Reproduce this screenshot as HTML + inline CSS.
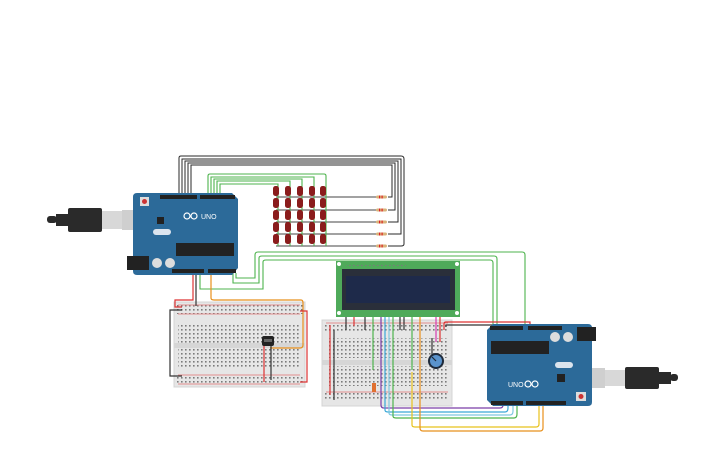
<!DOCTYPE html>
<html><head><meta charset="utf-8"><style>
html,body{margin:0;padding:0;background:#fff;width:725px;height:453px;overflow:hidden}
svg{display:block}
text{font-family:"Liberation Sans",sans-serif}
</style></head><body>
<svg width="725" height="453" viewBox="0 0 725 453" xmlns="http://www.w3.org/2000/svg">
<defs>
<pattern id="holes" x="0" y="0" width="4" height="4" patternUnits="userSpaceOnUse">
<rect x="1" y="1" width="1.6" height="1.6" fill="#7a7a7a"/>
</pattern>
</defs>

<!-- black wires from arduino1 top to resistors -->
<g fill="none" stroke="#2a2a2a" stroke-width="1">
<path d="M179,195 V158 Q179,156 181,156 H401 Q404,156 404,159 V244 Q404,246 401,246 H388"/>
<path d="M182,195 V159 H401 V234 H388"/>
<path d="M185,195 V161 H398 V222 H388"/>
<path d="M188,195 V163 H395 V210 H388"/>
<path d="M191,195 V165 H392 V197 H388"/>
</g>
<!-- row wires to resistors -->
<g stroke="#444" stroke-width="1">
<line x1="276" y1="197" x2="377" y2="197"/>
<line x1="276" y1="210" x2="377" y2="210"/>
<line x1="276" y1="222" x2="377" y2="222"/>
<line x1="276" y1="234" x2="377" y2="234"/>
<line x1="276" y1="246" x2="377" y2="246"/>
</g>
<!-- green column wires -->
<g fill="none" stroke="#4db34d" stroke-width="1.1">
<path d="M208,195 V176 Q208,174 210,174 H324 Q326,174 326,176 V246"/>
<path d="M211,195 V177 H314 V246"/>
<path d="M214,195 V179 H302 V246"/>
<path d="M217,195 V181 H290 V246"/>
<path d="M220,195 V184 H278 V246"/>
</g>
<!-- resistors -->
<g>
<rect x="376" y="195.5" width="11" height="3" rx="1.5" fill="#d9b27a"/>
<rect x="376" y="208.5" width="11" height="3" rx="1.5" fill="#d9b27a"/>
<rect x="376" y="220.5" width="11" height="3" rx="1.5" fill="#d9b27a"/>
<rect x="376" y="232.5" width="11" height="3" rx="1.5" fill="#d9b27a"/>
<rect x="376" y="244.5" width="11" height="3" rx="1.5" fill="#d9b27a"/>
<g fill="#d22">
<rect x="379" y="195.5" width="1.2" height="3"/><rect x="381.5" y="195.5" width="1.2" height="3"/>
<rect x="379" y="208.5" width="1.2" height="3"/><rect x="381.5" y="208.5" width="1.2" height="3"/>
<rect x="379" y="220.5" width="1.2" height="3"/><rect x="381.5" y="220.5" width="1.2" height="3"/>
<rect x="379" y="232.5" width="1.2" height="3"/><rect x="381.5" y="232.5" width="1.2" height="3"/>
<rect x="379" y="244.5" width="1.2" height="3"/><rect x="381.5" y="244.5" width="1.2" height="3"/>
</g>
</g>
<!-- LED matrix -->
<g fill="#8a1c1c">
<g id="ledrow">
<rect x="273" y="186" width="6" height="10" rx="2.5"/>
<rect x="285" y="186" width="6" height="10" rx="2.5"/>
<rect x="297" y="186" width="6" height="10" rx="2.5"/>
<rect x="309" y="186" width="6" height="10" rx="2.5"/>
<rect x="320" y="186" width="6" height="10" rx="2.5"/>
</g>
<use href="#ledrow" y="12"/>
<use href="#ledrow" y="24"/>
<use href="#ledrow" y="36"/>
<use href="#ledrow" y="48"/>
</g>

<!-- green long wires from arduino1 bottom to arduino2 -->
<g fill="none" stroke="#4db34d" stroke-width="1.1">
<path d="M236,273 V278 H255 V255 Q255,252 258,252 H522 Q525,252 525,255 V326"/>
<path d="M233,273 V283 H259 V258 Q259,256 262,256 H494 Q497,256 497,259 V326"/>
<path d="M200,273 V289 H263 V262 Q263,260 266,260 H490 Q493,260 493,263 V326"/>
</g>

<!-- Breadboard 1 -->
<rect x="174" y="302" width="131" height="85" fill="#e6e6e6" stroke="#d4d4d4"/>
<rect x="176" y="305" width="127" height="9" fill="url(#holes)"/>
<rect x="178" y="323" width="122" height="20" fill="url(#holes)"/>
<rect x="174" y="343" width="131" height="5" fill="#d6d6d6"/>
<rect x="178" y="349" width="122" height="20" fill="url(#holes)"/>
<rect x="176" y="375" width="127" height="9" fill="url(#holes)"/>
<line x1="178" y1="305" x2="300" y2="305" stroke="#e07070" stroke-width="0.7"/>
<line x1="178" y1="314" x2="300" y2="314" stroke="#e07070" stroke-width="0.7"/>
<line x1="178" y1="375" x2="300" y2="375" stroke="#e07070" stroke-width="0.7"/>
<line x1="178" y1="384" x2="300" y2="384" stroke="#e07070" stroke-width="0.7"/>
<!-- bb1 wires -->
<g fill="none" stroke-width="1.2">
<path d="M193,273 V300 H175 V307 H182" stroke="#d33"/>
<path d="M196,273 V306" stroke="#333"/>
<path d="M182,310 H170 V376 H182" stroke="#333"/>
<path d="M211,273 V298 Q211,300 214,300 H301 Q303,300 303,303 V345 Q303,348 300,348 H270" stroke="#e8901c"/>
<path d="M300,311 H307 V382 H300" stroke="#d33"/>
<path d="M264,345 V382" stroke="#d33"/>
<path d="M271,345 V380" stroke="#333"/>
</g>
<rect x="262" y="336" width="12" height="10" rx="2" fill="#222"/>
<rect x="264" y="339" width="8" height="3" fill="#666"/>

<!-- LCD -->
<rect x="336" y="261" width="124" height="56" fill="#4faa5a"/>
<rect x="342" y="269" width="113" height="41" fill="#2a2f3a"/>
<rect x="346" y="276" width="104" height="27" fill="#1e2a4a"/>
<g fill="#fff"><circle cx="339" cy="264" r="2"/><circle cx="457" cy="264" r="2"/><circle cx="339" cy="313" r="2"/><circle cx="457" cy="313" r="2"/></g>
<g fill="#c8c8a0"><rect x="346" y="263" width="60" height="3" fill="url(#holes)"/></g>

<!-- Breadboard 2 -->
<rect x="322" y="320" width="130" height="86" fill="#e6e6e6" stroke="#d4d4d4"/>
<rect x="325" y="323" width="124" height="9" fill="url(#holes)"/>
<rect x="328" y="338" width="120" height="20" fill="url(#holes)"/>
<rect x="322" y="360" width="130" height="5" fill="#d6d6d6"/>
<rect x="328" y="366" width="120" height="20" fill="url(#holes)"/>
<rect x="325" y="392" width="124" height="9" fill="url(#holes)"/>
<line x1="326" y1="323" x2="448" y2="323" stroke="#e07070" stroke-width="0.7"/>
<line x1="326" y1="392" x2="448" y2="392" stroke="#e07070" stroke-width="0.7"/>

<!-- bb2 wires -->
<g fill="none" stroke-width="1.2">
<path d="M330,325 V395" stroke="#d33"/>
<path d="M334,330 V400" stroke="#333"/>
<path d="M346,317 V330" stroke="#333"/>
<path d="M354,317 V326" stroke="#d33"/>
<path d="M365,317 V330" stroke="#333"/>
<path d="M400,317 V330" stroke="#333"/>
<path d="M404,317 V330" stroke="#333"/>
<path d="M373,317 V370" stroke="#4db34d"/>
<path d="M381,317 V405 Q381,408 384,408 H500 Q503,408 503,405 V402" stroke="#7a3ea8"/>
<path d="M385,317 V410 Q385,412 388,412 H505 Q508,412 508,408 V402" stroke="#3aa8d8"/>
<path d="M389,317 V413 Q389,415 392,415 H510 Q513,415 513,411 V402" stroke="#7fc8e0"/>
<path d="M393,317 V416 Q393,418 396,418 H514 Q517,418 517,414 V402" stroke="#4db34d"/>
<path d="M412,317 V370" stroke="#4db34d"/>
<path d="M412,372 V425 Q412,427 415,427 H536 Q539,427 539,424 V402" stroke="#e8c21c"/>
<path d="M420,317 V428 Q420,431 423,431 H540 Q543,431 543,428 V402" stroke="#e8901c"/>
<path d="M436,317 V342" stroke="#d63cb0"/>
<path d="M440,317 V342" stroke="#d33"/>
<path d="M444,330 V324 Q444,322 446,322 H530 V328" stroke="#d33"/>
<path d="M446,327 V325 H533" stroke="#333"/>
<path d="M432,357 V338" stroke="#333"/>
</g>
<rect x="372" y="383" width="4" height="9" fill="#e07030"/>
<circle cx="436" cy="361" r="8" fill="#1e2a3a"/>
<circle cx="436" cy="361" r="6" fill="#5a93cc"/>
<line x1="436" y1="361" x2="432" y2="357" stroke="#1e2a3a" stroke-width="1.2"/>

<!-- Arduino 1 -->
<rect x="122" y="210" width="26" height="20" fill="#cfcfcf"/>
<rect x="100" y="211" width="22" height="18" fill="#d8d8d8"/>
<rect x="68" y="208" width="34" height="24" rx="2" fill="#2a2a2a"/>
<rect x="56" y="214" width="14" height="12" fill="#2a2a2a"/>
<rect x="47" y="216" width="10" height="7" rx="3" fill="#2a2a2a"/>
<path d="M133,197 Q133,193 137,193 H232 L238,199 V268 L232,275 H137 Q133,275 133,271 Z" fill="#2c6a99"/>
<rect x="127" y="256" width="22" height="14" fill="#222"/>
<rect x="140" y="197" width="9" height="9" fill="#ddd"/><circle cx="144.5" cy="201.5" r="2.5" fill="#c33"/>
<rect x="160" y="195" width="37" height="4" fill="#222"/>
<rect x="200" y="195" width="35" height="4" fill="#222"/>
<rect x="176" y="243" width="58" height="13" fill="#222"/>
<rect x="153" y="229" width="18" height="6" rx="3" fill="#dbe4ee"/>
<rect x="157" y="217" width="7" height="7" fill="#222"/>
<circle cx="157" cy="263" r="5" fill="#ddd"/><circle cx="170" cy="263" r="5" fill="#ddd"/>
<rect x="172" y="269" width="32" height="4" fill="#222"/>
<rect x="208" y="269" width="28" height="4" fill="#222"/>
<circle cx="187" cy="216" r="3" fill="none" stroke="#fff" stroke-width="1.2"/><circle cx="194" cy="216" r="3" fill="none" stroke="#fff" stroke-width="1.2"/>
<text x="201" y="219" font-size="7" fill="#fff">UNO</text>

<!-- Arduino 2 (rotated) -->
<rect x="577" y="368" width="28" height="20" fill="#cfcfcf"/>
<rect x="605" y="370" width="22" height="16" fill="#d8d8d8"/>
<rect x="625" y="367" width="34" height="22" rx="2" fill="#2a2a2a"/>
<rect x="657" y="372" width="14" height="12" fill="#2a2a2a"/>
<rect x="670" y="374" width="8" height="7" rx="3" fill="#2a2a2a"/>
<path d="M487,330 L493,324 H588 Q592,324 592,328 V402 Q592,406 588,406 H493 L487,400 Z" fill="#2c6a99"/>
<rect x="577" y="327" width="19" height="14" fill="#222"/>
<rect x="490" y="326" width="33" height="4" fill="#222"/>
<rect x="528" y="326" width="34" height="4" fill="#222"/>
<rect x="491" y="341" width="58" height="13" fill="#222"/>
<circle cx="555" cy="337" r="5" fill="#ddd"/><circle cx="568" cy="337" r="5" fill="#ddd"/>
<rect x="555" y="362" width="18" height="6" rx="3" fill="#dbe4ee"/>
<rect x="557" y="374" width="8" height="8" fill="#222"/>
<rect x="576" y="392" width="10" height="9" fill="#ddd"/><circle cx="581" cy="396.5" r="2.5" fill="#c33"/>
<rect x="491" y="401" width="32" height="4" fill="#222"/>
<rect x="526" y="401" width="40" height="4" fill="#222"/>
<circle cx="528" cy="384" r="3" fill="none" stroke="#fff" stroke-width="1.2"/><circle cx="535" cy="384" r="3" fill="none" stroke="#fff" stroke-width="1.2"/>
<text x="508" y="387" font-size="7" fill="#fff">UNO</text>
</svg>
</body></html>
